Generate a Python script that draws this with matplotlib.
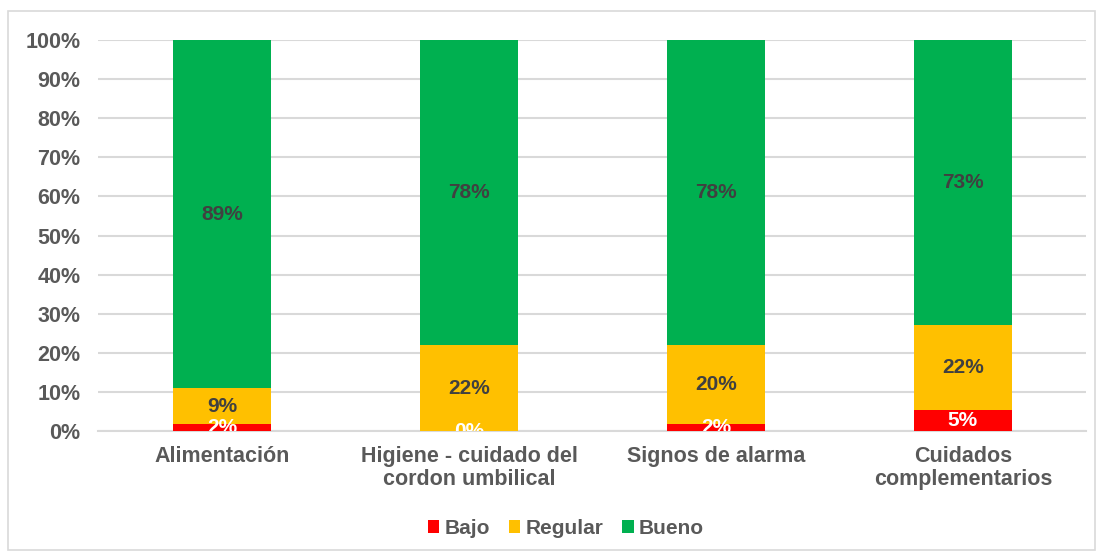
import matplotlib.pyplot as plt
from matplotlib.patches import Rectangle
import numpy as np

# ---------- DATA ----------
categories = ["Alimentación", "Higiene - cuidado del\ncordon umbilical",
              "Signos de alarma", "Cuidados\ncomplementarios"]
bajo = [1.8, 0.0, 1.8, 5.4]
regular = [9.1, 22.0, 20.2, 21.8]
bueno = [89.1, 78.0, 78.0, 72.8]
bajo_lbl = ["2%", "0%", "2%", "5%"]
regular_lbl = ["9%", "22%", "20%", "22%"]
bueno_lbl = ["89%", "78%", "78%", "73%"]
yticks = list(range(0, 101, 10))

C_BAJO = "#FF0000"
C_REG = "#FFC000"
C_BUENO = "#00B050"
FS = 15.5
FS_LBL = 15

plt.rcParams["font.family"] = ["Liberation Sans", "DejaVu Sans"]
plt.rcParams["font.weight"] = "bold"

fig = plt.figure(figsize=(11.03, 5.55), dpi=100)
ax = fig.add_axes([0.0893, 0.2234, 0.8957, 0.7045])

x = np.arange(len(categories))
w = 0.4
bottom2 = np.array(bajo) + np.array(regular)
ax.bar(x, bajo, w, color=C_BAJO, label="Bajo", zorder=3)
ax.bar(x, regular, w, bottom=bajo, color=C_REG, label="Regular", zorder=3)
ax.bar(x, bueno, w, bottom=bottom2, color=C_BUENO, label="Bueno", zorder=3)

for i in range(len(categories)):
    t = ax.text(x[i], bajo[i] / 2, bajo_lbl[i], ha="center", va="center",
                color="white", fontsize=FS_LBL, fontweight="bold", zorder=4)
    t.set_clip_on(True)
    ax.text(x[i], bajo[i] + regular[i] / 2, regular_lbl[i], ha="center",
            va="center", color="#404040", fontsize=FS_LBL, fontweight="bold", zorder=4)
    ax.text(x[i], bottom2[i] + bueno[i] / 2, bueno_lbl[i], ha="center",
            va="center", color="#404040", fontsize=FS_LBL, fontweight="bold", zorder=4)

ax.set_xlim(-0.5, len(categories) - 0.5)
ax.set_ylim(0, 100)
ax.set_yticks(yticks)
ax.set_yticklabels([f"{v}%" for v in yticks], fontweight="bold")
ax.set_xticks(x)
ax.set_xticklabels(categories, linespacing=1.1, fontweight="bold")
ax.tick_params(axis="y", length=0, pad=13, labelsize=FS, labelcolor="#595959")
ax.tick_params(axis="x", length=0, pad=11, labelsize=FS, labelcolor="#595959")
ax.grid(axis="y", color="#D9D9D9", linewidth=1.5, zorder=0)
for s in ["top", "right", "left"]:
    ax.spines[s].set_visible(False)
ax.spines["bottom"].set_color("#D9D9D9")
ax.spines["bottom"].set_linewidth(1.5)

leg = fig.legend(loc="center", bbox_to_anchor=(0.513, 0.048), ncol=3, frameon=False,
                 prop={"size": FS_LBL, "weight": "bold"}, handlelength=0.55,
                 handleheight=0.55, handletextpad=0.25, columnspacing=0.9)
for t in leg.get_texts():
    t.set_color("#595959")

fig.patches.append(Rectangle((8 / 1103, 5 / 555), 1087 / 1103, 539 / 555,
                             transform=fig.transFigure, fill=False,
                             edgecolor="#D9D9D9", linewidth=1.2))

fig.savefig("out.png", dpi=100)
